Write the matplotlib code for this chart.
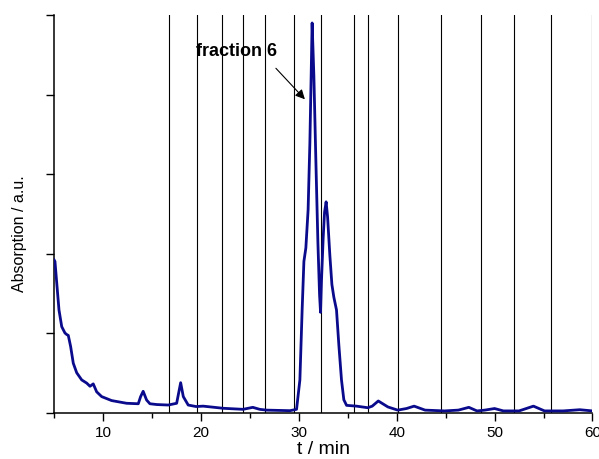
import matplotlib
matplotlib.use("Agg")
import matplotlib.pyplot as plt

plt.rcParams['font.family'] = ['Liberation Sans', 'DejaVu Sans']

# chromatogram (time in min, absorption in a.u.)
t_min = [5.0, 5.09, 5.27, 5.5, 5.78, 6.11, 6.3, 6.45, 6.69, 6.96, 7.31, 7.82, 8.33, 8.67,
         9.0, 9.35, 9.86, 10.88, 12.41, 13.6, 13.84, 14.1, 14.45, 14.79, 15.5, 16.66,
         17.52, 17.93, 18.2, 18.7, 19.5, 20.23, 21.0, 22.28, 24.3, 25.3, 26.0, 26.7,
         29.1, 29.77, 30.11, 30.34, 30.52, 30.72, 30.95, 31.13, 31.26, 31.36, 31.54,
         31.74, 31.95, 32.12, 32.22, 32.32, 32.49, 32.63, 32.79, 32.94, 33.17, 33.38,
         33.58, 33.85, 34.09, 34.36, 34.6, 34.88, 35.9, 37.05, 37.5, 38.12, 39.1, 40.1,
         41.0, 41.78, 42.9, 44.9, 46.3, 47.37, 48.2, 49.0, 50.0, 50.9, 52.5, 53.97,
         55.1, 57.0, 58.7, 60.0]
absorption = [1.92, 1.90, 1.63, 1.29, 1.08, 1.00, 0.98, 0.97, 0.83, 0.62, 0.50, 0.41, 0.37,
              0.33, 0.36, 0.26, 0.20, 0.15, 0.116, 0.11, 0.20, 0.267, 0.157, 0.11, 0.10,
              0.094, 0.116, 0.375, 0.20, 0.094, 0.075, 0.08, 0.07, 0.053, 0.04, 0.065,
              0.04, 0.03, 0.023, 0.04, 0.41, 1.29, 1.90, 2.07, 2.55, 3.39, 4.23, 4.90,
              4.23, 3.18, 2.14, 1.48, 1.26, 1.67, 2.20, 2.52, 2.65, 2.46, 1.98, 1.61,
              1.45, 1.29, 0.85, 0.41, 0.16, 0.09, 0.08, 0.06, 0.08, 0.145, 0.07, 0.03,
              0.05, 0.08, 0.03, 0.02, 0.03, 0.065, 0.02, 0.03, 0.05, 0.02, 0.02, 0.08,
              0.02, 0.02, 0.035, 0.02]

# fraction boundaries (min)
fraction_bounds = [16.76, 19.63, 22.14, 24.32, 26.56, 29.53, 32.3, 35.62, 37.09, 40.14,
                   44.51, 48.62, 52.03, 55.77, 60.0]

x_ticks = [10, 20, 30, 40, 50, 60]
x_minor = [5, 15, 25, 35, 45, 55]
y_ticks = [0, 1, 2, 3, 4, 5]

fig = plt.figure(figsize=(5.99, 4.59), dpi=100)
ax = fig.add_axes([0.0903, 0.1013, 0.8988, 0.866])

for b in fraction_bounds:
    ax.axvline(b, color='black', lw=0.8, zorder=1)

ax.plot(t_min, absorption, color='#0a0a8c', lw=2.0, zorder=3,
        solid_joinstyle='round')

ax.set_xlim(5, 60)
ax.set_ylim(0, 5)
ax.set_xticks(x_ticks)
ax.set_xticks(x_minor, minor=True)
ax.set_yticks(y_ticks)
ax.set_yticklabels([])

for s in ['top', 'right']:
    ax.spines[s].set_visible(False)
for s in ['left', 'bottom']:
    ax.spines[s].set_linewidth(1.1)

ax.tick_params(axis='x', which='major', direction='out', length=5.5, width=1.0,
               labelsize=11, pad=4)
ax.tick_params(axis='x', which='minor', direction='out', length=3.5, width=1.0)
ax.tick_params(axis='y', which='major', direction='out', length=6, width=1.0)

ax.set_xlabel('t / min', fontsize=14, labelpad=1)
ax.set_ylabel('Absorption / a.u.', fontsize=11.5)
ax.yaxis.set_label_coords(-0.050, 0.45)

ax.text(23.65, 4.54, 'fraction 6', fontsize=13, fontweight='bold',
        ha='center', va='center', zorder=5)
ax.annotate('', xy=(30.62, 3.94), xytext=(27.66, 4.33),
            arrowprops=dict(arrowstyle='-|>', color='black', lw=0.8,
                            mutation_scale=14, shrinkA=0, shrinkB=0),
            zorder=5)

fig.savefig('out.png', dpi=100)
